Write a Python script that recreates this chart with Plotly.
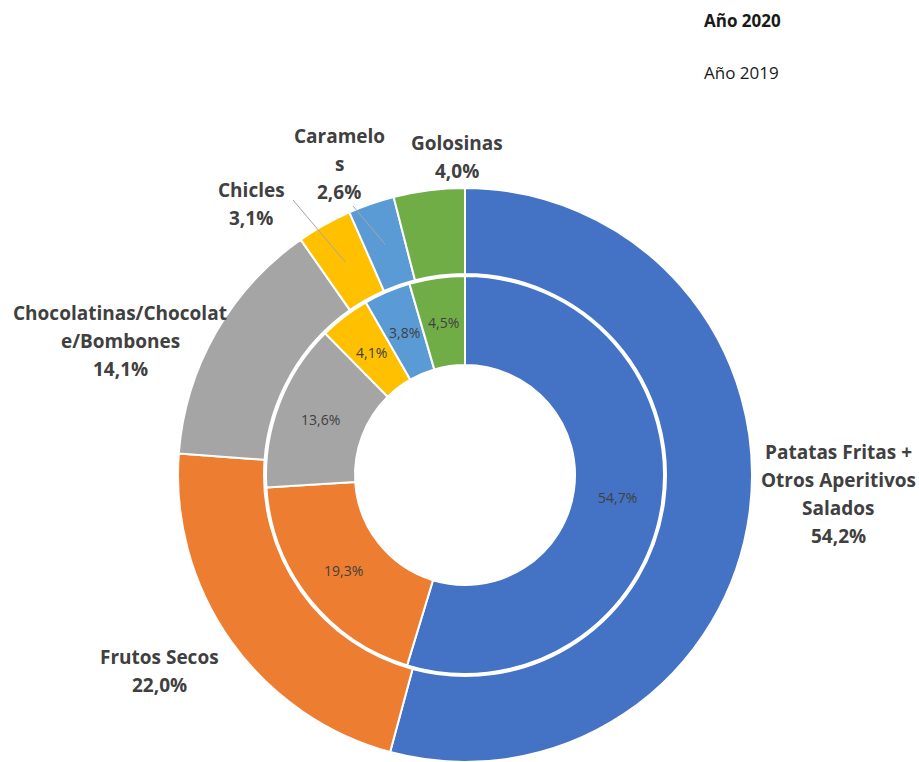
import math
import plotly.graph_objects as go

# ---------------- data ----------------
categories = ["Patatas Fritas + Otros Aperitivos Salados", "Frutos Secos",
              "Chocolatinas/Chocolate/Bombones", "Chicles", "Caramelos", "Golosinas"]
label_lines = [["Patatas Fritas +", "Otros Aperitivos", "Salados"],
               ["Frutos Secos"],
               ["Chocolatinas/Chocolat", "e/Bombones"],
               ["Chicles"],
               ["Caramelo", "s"],
               ["Golosinas"]]
values_2020 = [54.2, 22.0, 14.1, 3.1, 2.6, 4.0]
values_2019 = [54.7, 19.3, 13.6, 4.1, 3.8, 4.5]
series_names = ["Año 2020", "Año 2019"]

# ---------------- style / layout ----------------
colors = ["#4472C4", "#ED7D31", "#A5A5A5", "#FFC000", "#5B9BD5", "#70AD47"]
W, H = 919, 762
CX, CY = 465, 475
R_OUT, R_OUT_HOLE = 287, 201
R_IN, R_IN_HOLE = 199, 110
TXT = "#404040"
FONT = "Open Sans"

# label centres (px) for outer ring labels
label_pos = [(838, 494), (159, 671), (120, 341), (251, 204), (339, 164), (457, 157)]
LINE_H = 28
# leader lines: start points (px) for small slices, index -> start
leaders = {3: (293, 200), 4: (353, 206)}


def fmt(v):
    return f"{v:.1f}".replace(".", ",") + "%"


def px(x):
    return x / W


def py(y):
    return 1 - y / H


def mid_angles(vals):
    tot = sum(vals)
    c = 0
    out = []
    for v in vals:
        out.append((c + v / 2) / tot * 2 * math.pi)
        c += v
    return out


fig = go.Figure()

fig.add_trace(go.Pie(
    labels=categories, values=values_2020, name=series_names[0],
    sort=False, direction="clockwise", rotation=0,
    hole=R_OUT_HOLE / R_OUT,
    marker=dict(colors=colors, line=dict(color="white", width=2)),
    textinfo="none", hoverinfo="label+value",
    domain=dict(x=[px(CX - R_OUT), px(CX + R_OUT)], y=[py(CY + R_OUT), py(CY - R_OUT)]),
    showlegend=False,
))

fig.add_trace(go.Pie(
    labels=categories, values=values_2019, name=series_names[1],
    sort=False, direction="clockwise", rotation=0,
    hole=R_IN_HOLE / R_IN,
    marker=dict(colors=colors, line=dict(color="white", width=2)),
    textinfo="none", hoverinfo="label+value",
    domain=dict(x=[px(CX - R_IN), px(CX + R_IN)], y=[py(CY + R_IN), py(CY - R_IN)]),
    showlegend=False,
))

annotations = []

# inner ring value labels at slice mid-angle, mid-radius
r_in_mid = (R_IN + R_IN_HOLE) / 2
for a, v in zip(mid_angles(values_2019), values_2019):
    annotations.append(dict(
        x=px(CX + r_in_mid * math.sin(a)), y=py(CY - r_in_mid * math.cos(a)),
        xref="paper", yref="paper", text=fmt(v), showarrow=False,
        xanchor="center", yanchor="middle",
        font=dict(family=FONT, size=14, color=TXT)))

# outer ring labels
for i, (lines, v) in enumerate(zip(label_lines, values_2020)):
    all_lines = lines + [fmt(v)]
    n = len(all_lines)
    x0, y0 = label_pos[i]
    for k, t in enumerate(all_lines):
        yy = y0 + (k - (n - 1) / 2) * LINE_H
        annotations.append(dict(
            x=px(x0), y=py(yy), xref="paper", yref="paper",
            text=f"<b>{t}</b>", showarrow=False,
            xanchor="center", yanchor="middle",
            font=dict(family=FONT, size=19, color=TXT)))

# legend-like texts
annotations.append(dict(x=px(702), y=py(21), xref="paper", yref="paper",
                        text=f"<b>{series_names[0]}</b>", showarrow=False,
                        xanchor="left", yanchor="middle",
                        font=dict(family=FONT, size=17, color="#1a1a1a")))
annotations.append(dict(x=px(702), y=py(72), xref="paper", yref="paper",
                        text=series_names[1], showarrow=False,
                        xanchor="left", yanchor="middle",
                        font=dict(family=FONT, size=17, color="#1a1a1a")))

# leader lines to slice mid-angles
mids = mid_angles(values_2020)
shapes = []
r_mid = (R_OUT + R_OUT_HOLE) / 2
for i, (sx, sy) in leaders.items():
    ex = CX + r_mid * math.sin(mids[i])
    ey = CY - r_mid * math.cos(mids[i])
    shapes.append(dict(type="line", xref="paper", yref="paper",
                       x0=px(sx), y0=py(sy), x1=px(ex), y1=py(ey),
                       line=dict(color="#A6A6A6", width=1)))

fig.update_layout(
    width=W, height=H,
    margin=dict(l=0, r=0, t=0, b=0),
    paper_bgcolor="white", plot_bgcolor="white",
    annotations=annotations, shapes=shapes,
    font=dict(family=FONT, color=TXT),
)

fig.write_html("out.html",
               config={"displayModeBar": False},
               post_script="document.body.style.margin='0';document.body.style.overflow='hidden';")
